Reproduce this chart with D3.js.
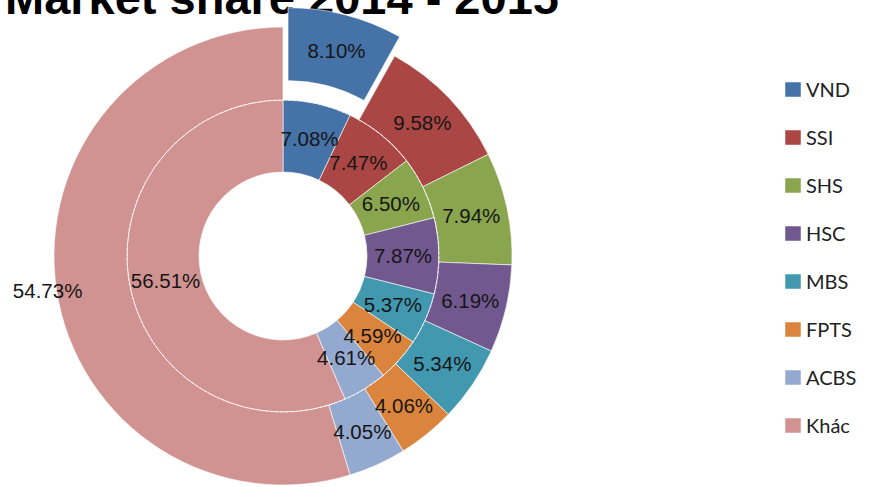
<!DOCTYPE html>
<html>
<head>
<meta charset="utf-8">
<script src="https://cdn.jsdelivr.net/npm/d3@7"></script>
<style>
  body { margin: 0; background: #fff; }
  svg { display: block; }
</style>
</head>
<body>
<div id="chart"></div>
<script>
// data
const companies = ["VND", "SSI", "SHS", "HSC", "MBS", "FPTS", "ACBS", "Khác"];
const share2014 = [7.08, 7.47, 6.50, 7.87, 5.37, 4.59, 4.61, 56.51]; // vòng trong
const share2015 = [8.10, 9.58, 7.94, 6.19, 5.34, 4.06, 4.05, 54.73]; // vòng ngoài
const colors = ["#4572A7", "#AA4643", "#89A54E", "#71588F", "#4198AF", "#DB843D", "#93A9CF", "#D19392"];
const titleText = "Market share 2014 - 2015";

const W = 869, H = 487;
const cx = 283, cy = 256;
const rHole = 84, rMid = 156, rOuter = 229;
const explode = 20; // VND outer slice pulled out

const color = d3.scaleOrdinal().domain(companies).range(colors);

const svg = d3.select("#chart").append("svg")
    .attr("width", W)
    .attr("height", H);

svg.append("text")
    .attr("x", 5)
    .attr("y", 14)
    .attr("font-family", "Liberation Sans, Arial, sans-serif")
    .attr("font-weight", "bold")
    .attr("font-size", 47)
    .attr("fill", "#000")
    .text(titleText);

const pie = d3.pie().sort(null).value(d => d.value);

function ringData(values) {
    return pie(companies.map((c, i) => ({ name: c, value: values[i] })));
}

const g = svg.append("g").attr("transform", "translate(" + cx + "," + cy + ")");

const innerArc = d3.arc().innerRadius(rHole).outerRadius(rMid);
const outerArc = d3.arc().innerRadius(rMid).outerRadius(rOuter);

function offset(d) {
    if (d.data.name !== "VND") return [0, 0];
    const a = (d.startAngle + d.endAngle) / 2;
    return [Math.sin(a) * explode, -Math.cos(a) * explode];
}

// inner ring (2014)
g.append("g").selectAll("path")
    .data(ringData(share2014))
    .join("path")
    .attr("d", innerArc)
    .attr("fill", d => color(d.data.name))
    .attr("stroke", "#fff")
    .attr("stroke-width", 0.6);

// outer ring (2015)
g.append("g").selectAll("path")
    .data(ringData(share2015))
    .join("path")
    .attr("d", outerArc)
    .attr("transform", d => "translate(" + offset(d) + ")")
    .attr("fill", d => color(d.data.name))
    .attr("stroke", "#fff")
    .attr("stroke-width", 0.6);

// dashed white boundary between the rings
g.append("circle")
    .attr("r", rMid)
    .attr("fill", "none")
    .attr("stroke", "#fff")
    .attr("stroke-width", 0.8)
    .attr("stroke-dasharray", "3,2")
    .attr("opacity", 0.8);

const fmt = v => v.toFixed(2) + "%";
const labelFont = "Liberation Sans, Arial, sans-serif";

g.append("g").selectAll("text")
    .data(ringData(share2014))
    .join("text")
    .attr("transform", d => "translate(" + innerArc.centroid(d) + ")")
    .attr("text-anchor", "middle")
    .attr("dy", "0.35em")
    .attr("font-family", labelFont)
    .attr("font-size", 20.5)
    .attr("fill", "#161616")
    .text(d => fmt(d.data.value));

// Excel puts the big "Khác" label just outside the ring
const outsideLabel = d3.arc().innerRadius(238).outerRadius(238);

g.append("g").selectAll("text")
    .data(ringData(share2015))
    .join("text")
    .attr("transform", d => {
        const p = d.data.name === "Khác" ? outsideLabel.centroid(d) : outerArc.centroid(d);
        const o = offset(d);
        return "translate(" + [p[0] + o[0], p[1] + o[1]] + ")";
    })
    .attr("text-anchor", "middle")
    .attr("dy", "0.35em")
    .attr("font-family", labelFont)
    .attr("font-size", 20.5)
    .attr("fill", "#161616")
    .text(d => fmt(d.data.value));

// legend
const legend = svg.append("g").attr("transform", "translate(785,82)");
const item = legend.selectAll("g")
    .data(companies)
    .join("g")
    .attr("transform", (d, i) => "translate(0," + i * 48 + ")");

item.append("rect")
    .attr("width", 16)
    .attr("height", 15)
    .attr("fill", d => color(d))
    .attr("stroke", "#fff")
    .attr("stroke-width", 0.5);

item.append("text")
    .attr("x", 21)
    .attr("y", 7.5)
    .attr("dy", "0.36em")
    .attr("font-family", "Lato, Open Sans, sans-serif")
    .attr("font-size", 20)
    .attr("fill", "#222")
    .text(d => d);
</script>
</body>
</html>
